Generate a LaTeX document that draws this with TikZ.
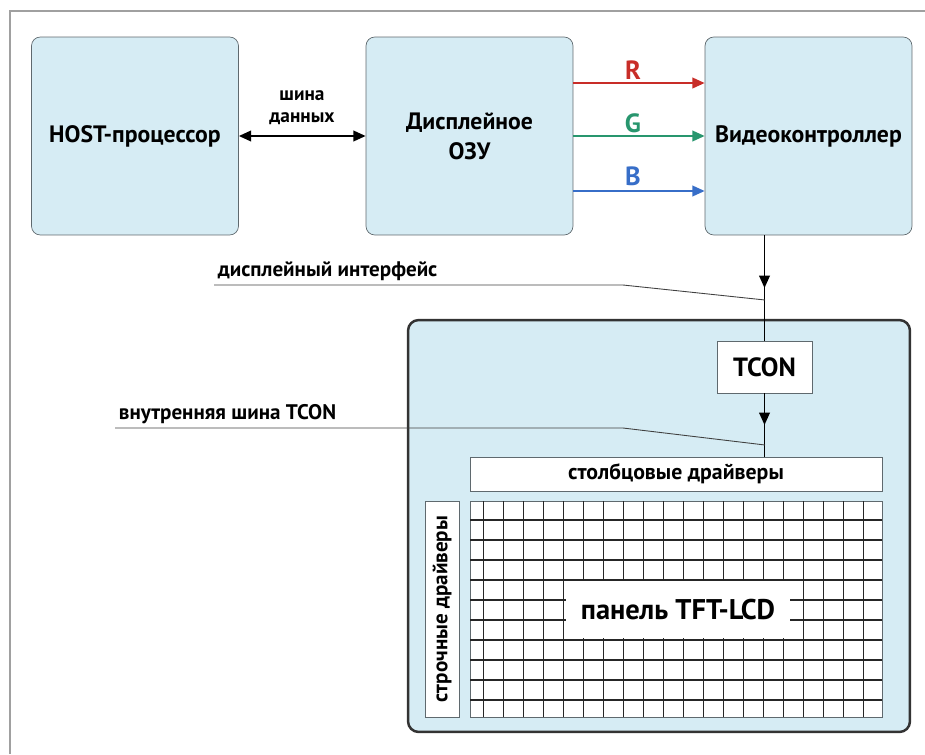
\documentclass[tikz,border=0pt]{standalone}
\usepackage{fontspec}
\setmainfont{PT Sans}
\usetikzlibrary{arrows.meta,decorations.markings}

\definecolor{boxblue}{RGB}{214,236,244}
\definecolor{boxline}{RGB}{95,105,110}
\definecolor{framegray}{RGB}{160,160,160}
\definecolor{rline}{RGB}{200,45,40}
\definecolor{gline}{RGB}{40,150,110}
\definecolor{bline}{RGB}{55,110,200}

\tikzset{
  unit/.style     = {draw=boxline, fill=boxblue, rounded corners=5pt,
                     minimum width=4.14cm, minimum height=3.96cm, align=center,
                     font=\bfseries\fontsize{13.5}{17}\selectfont},
  whitebox/.style = {draw=boxline, fill=white},
  lbl/.style      = {font=\bfseries\fontsize{12}{14}\selectfont},
  leader/.style   = {draw=black!75, line width=0.5pt},
  tip/.style      = {-{Triangle[length=7pt,width=6pt]}},
  bus/.style      = {line width=1.2pt, tip},
  midarrow/.style = {line width=1pt, decoration={markings,
                     mark=at position 0.5 with {\arrow{Triangle[length=7pt,width=6pt]}}},
                     postaction={decorate}},
  gridline/.style = {draw=black!85, line width=0.6pt},
}

\begin{document}
\begin{tikzpicture}[x=0.02cm, y=-0.02cm]
  \useasboundingbox (0,0) rectangle (925,754);
  \draw[framegray, line width=1pt] (10,754) -- (10,11) -- (925,11);

  % top row
  \node [unit] (host)  at (135,136)   {HOST-процессор};
  \node [unit] (ram)   at (469.5,136) {Дисплейное\\ОЗУ};
  \node [unit] (video) at (808.5,136) {Видеоконтроллер};

  \draw [bus, {Triangle[length=7pt,width=6pt]}-{Triangle[length=7pt,width=6pt]}] (host.east) -- (ram.west);
  \node [font=\bfseries\fontsize{11}{12.5}\selectfont, align=center] (buslbl) at (302,108) {шина\\данных};

  \draw [bus, rline] ([yshift=1.06cm]ram.east) -- ([yshift=1.06cm]video.west);
  \draw [bus, gline] (ram.east) -- (video.west);
  \draw [bus, bline] ([yshift=-1.1cm]ram.east) -- ([yshift=-1.1cm]video.west);
  \node [font=\bfseries\fontsize{15}{18}\selectfont, text=rline] (rlbl) at (633,70)  {R};
  \node [font=\bfseries\fontsize{15}{18}\selectfont, text=gline] (glbl) at (633,123) {G};
  \node [font=\bfseries\fontsize{15}{18}\selectfont, text=bline] (blbl) at (633,176) {B};

  % panel
  \node [draw=black!80, line width=1.4pt, fill=boxblue, rounded corners=6pt,
         minimum width=10.04cm, minimum height=8.24cm] (panel) at (659,526) {};
  \node [whitebox, minimum width=1.9cm, minimum height=1.04cm,
         font=\bfseries\fontsize{15}{18}\selectfont] (tcon) at (764.5,367) {TCON};
  \node [whitebox, minimum width=8.24cm, minimum height=0.68cm, lbl,
         font=\bfseries\fontsize{12.4}{14}\selectfont] (coldrv) at (676,474) {столбцовые драйверы};
  \node [whitebox, rotate=90, minimum width=4.32cm, minimum height=0.68cm, lbl] (rowdrv) at (442,609) {строчные драйверы};

  \draw [midarrow] (video.south -| tcon.north) -- (tcon.north);
  \draw [midarrow] (tcon.south) -- (tcon.south |- coldrv.north);

  % matrix
  \node [whitebox, minimum width=8.24cm, minimum height=4.32cm] (lcd) at (676,609) {};
  \foreach \gx in {0,...,19}
    \draw [gridline] (483.3+20*\gx,501) -- (483.3+20*\gx,717);
  \foreach \gy in {0,...,9}
    \draw [gridline] (470,520+20*\gy) -- (882,520+20*\gy);
  \node [fill=white, minimum width=4.5cm, minimum height=1.14cm,
         font=\bfseries\fontsize{16.2}{19}\selectfont] (lcdlbl) at (678,609.5) {панель TFT-LCD};

  % leaders
  \coordinate (ifpt)   at (765,300);
  \coordinate (tbuspt) at (765,445);
  \node [lbl, anchor=south west, inner sep=2pt] (iflbl)   at (214,285) {дисплейный интерфейс};
  \node [lbl, anchor=south west, inner sep=2pt] (tbuslbl) at (115,428) {внутренняя шина TCON};
  \draw [leader] (iflbl.south west)   -- (623,285) -- (ifpt);
  \draw [leader] (tbuslbl.south west) -- (623,428) -- (tbuspt);
\end{tikzpicture}
\end{document}
